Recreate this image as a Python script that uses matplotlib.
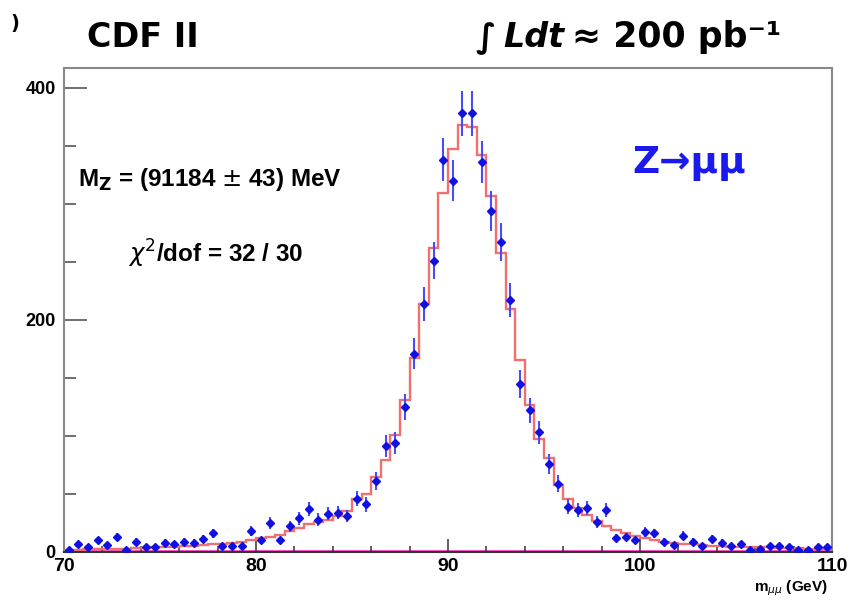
import numpy as np
import matplotlib.pyplot as plt
from matplotlib.ticker import MultipleLocator

# dimuon mass histogram, 0.5 GeV bins from 70 to 110 GeV
bin_lo = 70.0
bin_w = 0.5
counts = [2, 7, 4, 10, 6, 13, 2, 9, 4, 4,
          8, 7, 9, 8, 11, 16, 5, 5, 5, 18,
          10, 25, 10, 22, 29, 37, 28, 33, 34, 31,
          46, 41, 61, 91, 94, 125, 171, 214, 251, 338,
          320, 378, 378, 336, 294, 267, 217, 145, 122, 103,
          76, 59, 39, 36, 38, 26, 36, 12, 13, 10,
          17, 16, 9, 6, 14, 9, 5, 11, 8, 5,
          7, 2, 3, 5, 5, 4, 2, 2, 4, 4]
fit = [2, 2, 2.5, 2.5, 3, 3, 3, 3.5, 3.5, 4,
       4, 4.5, 5, 5.5, 6, 6.5, 7, 8, 9, 10,
       12, 13, 15, 18, 21, 24, 26, 28, 31, 35,
       46, 50, 65, 79, 101, 131, 167, 214, 262, 309,
       347, 368, 366, 342, 307, 258, 209, 165, 127, 97,
       81, 58, 46, 38, 32, 27, 22, 19, 16, 14,
       12, 10.5, 9, 8, 7, 6.5, 6, 5.5, 5, 4.5,
       4.5, 4, 4, 4, 3.5, 3.5, 3.5, 3, 3, 3]
bkg_level = 1.0

counts = np.array(counts, dtype=float)
fit = np.array(fit, dtype=float)
edges = bin_lo + bin_w * np.arange(len(counts) + 1)
centres = 0.5 * (edges[:-1] + edges[1:])

LIB = "Liberation Sans"

fig = plt.figure(figsize=(8.5, 6.06), dpi=100)
ax = fig.add_axes([64/850, 1-552/606, (832-64)/850, (552-68)/606])

# fitted shape (red step) and background (magenta)
ax.stairs(fit, edges, color="#f07070", lw=1.7, zorder=2)
ax.plot([edges[0], edges[-1]], [bkg_level, bkg_level], color="#ff55cc", lw=2.2, zorder=1)

# data points
ax.errorbar(centres, counts, yerr=np.sqrt(counts), xerr=bin_w/2*0.6,
            fmt="D", ms=3.8, color="#1010e0", ecolor="#4a4aff",
            elinewidth=1.5, capsize=0, zorder=3)

ax.set_xlim(70, 110)
ax.set_ylim(0, 417)
ax.set_xticks([70, 80, 90, 100, 110])
ax.set_yticks([0, 200, 400])
ax.xaxis.set_minor_locator(MultipleLocator(2))
ax.yaxis.set_minor_locator(MultipleLocator(50))
ax.tick_params(axis="x", which="major", direction="in", length=9.5, width=1.2,
               color="#444444", pad=4, labelsize=14)
ax.tick_params(axis="x", which="minor", direction="in", length=4.5, width=1.2,
               color="#444444")
ax.tick_params(axis="y", which="major", direction="in", length=16.5, width=1.2,
               color="#555555", pad=6, labelsize=13)
ax.tick_params(axis="y", which="minor", direction="in", length=8.5, width=1.2,
               color="#555555")
for lab in ax.get_xticklabels() + ax.get_yticklabels():
    lab.set_family(LIB)
    lab.set_fontweight("bold")
for s in ax.spines.values():
    s.set_color("#888888")
    s.set_linewidth(1.5)
ax.spines["bottom"].set_color("#333333")

# annotations
ax.text(70.73, 315, r"M$_{\mathbf{Z}}$ = (91184 $\pm$ 43) MeV", family=LIB,
        fontweight="bold", fontsize=17.5, va="baseline")
ax.text(73.33, 249, r"$\chi^2$/dof = 32 / 30", family=LIB,
        fontweight="bold", fontsize=17.5, va="baseline")
ax.text(99.58, 326.7, "Z\u2192\u03bc\u03bc", family="DejaVu Sans", fontweight="bold",
        fontsize=27, color="#1a1aee", va="baseline")

fig.text(828/850, 1-591/606, r"m$_{\mu\mu}$ (GeV)", family=LIB, fontweight="bold",
         fontsize=11, ha="right", va="baseline")

# header texts above the frame
fig.text(10/850, 1-24/606, ")", fontsize=14, fontweight="bold", va="center")
fig.text(87/850, 1-47/606, "CDF II", fontsize=24, fontweight="bold", va="baseline")
fig.text(476/850, 1-47/606, "\u222b", fontsize=24, fontweight="bold", va="baseline")
fig.text(503/850, 1-47/606, "Ldt", fontsize=24, fontweight="bold", style="italic",
         va="baseline")
fig.text(572/850, 1-47/606, "\u2248 200 pb\u207b\u00b9", fontsize=25,
         fontweight="bold", va="baseline")

fig.savefig("out.png", dpi=100)
